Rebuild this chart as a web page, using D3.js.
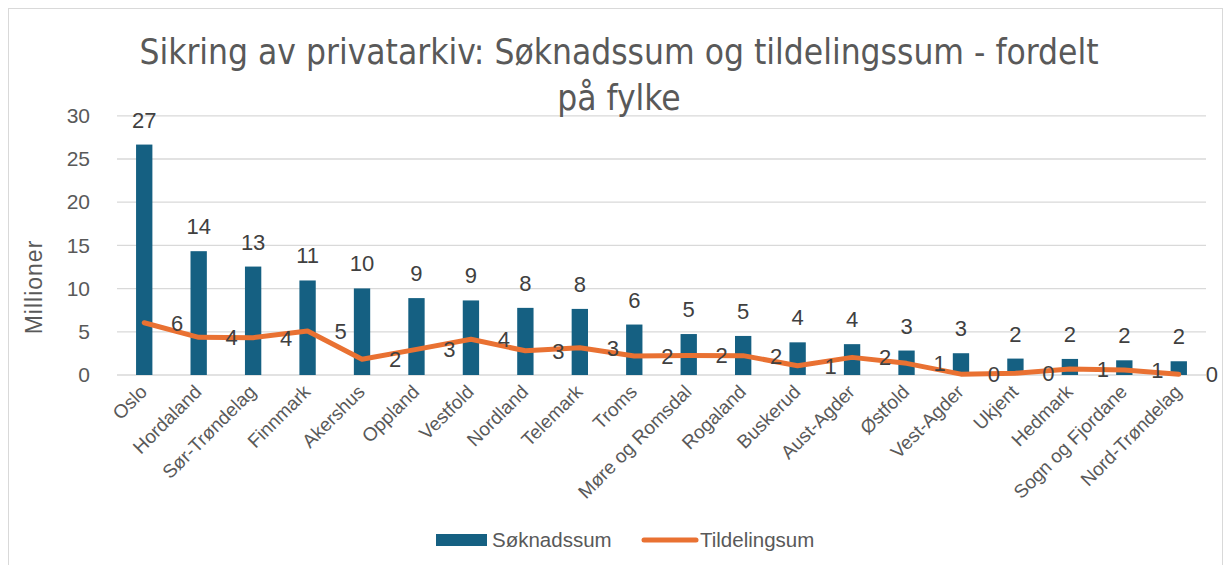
<!DOCTYPE html>
<html>
<head>
<meta charset="utf-8">
<script src="https://cdn.jsdelivr.net/npm/d3@7"></script>
<style>
  html, body { margin: 0; padding: 0; background: #fff; }
  svg { display: block; font-family: 'Liberation Sans', Arial, sans-serif; }
</style>
</head>
<body>
<svg id="chart" width="1230" height="565"></svg>
<script>
// chart data
const categories = ['Oslo', 'Hordaland', 'Sør-Trøndelag', 'Finnmark', 'Akershus', 'Oppland', 'Vestfold',
  'Nordland', 'Telemark', 'Troms', 'Møre og Romsdal', 'Rogaland', 'Buskerud', 'Aust-Agder', 'Østfold',
  'Vest-Agder', 'Ukjent', 'Hedmark', 'Sogn og Fjordane', 'Nord-Trøndelag'];
const soknadssum = [26.67, 14.33, 12.55, 10.94, 10.02, 8.9, 8.63, 7.77, 7.65, 5.84, 4.74, 4.52, 3.78,
  3.57, 2.83, 2.52, 1.9, 1.86, 1.7, 1.59];
const tildelingsum = [6.05, 4.36, 4.32, 5.09, 1.82, 2.97, 4.13, 2.81, 3.16, 2.2, 2.27, 2.24, 1.08,
  2.04, 1.35, 0.1, 0.2, 0.7, 0.58, 0.08];
const yTicks = [0, 5, 10, 15, 20, 25, 30];
const seriesNames = ['Søknadssum', 'Tildelingsum'];
const titleLines = ['Sikring av privatarkiv: Søknadssum og tildelingssum - fordelt', 'på fylke'];

const barColor = '#156082';
const lineColor = '#E97132';

const plot = { left: 117, right: 1206, top: 115.8, bottom: 375 };

const svg = d3.select('#chart');

// chart border
svg.append('rect')
  .attr('x', 8.5).attr('y', 8.5)
  .attr('width', 1214).attr('height', 600)
  .attr('fill', 'none')
  .attr('stroke', '#d9d9d9');

const xScale = d3.scaleBand()
  .domain(categories)
  .range([plot.left, plot.right])
  .paddingInner(0.7)
  .paddingOuter(0.35);

const yScale = d3.scaleLinear()
  .domain([0, 30])
  .range([plot.bottom, plot.top]);

const cx = d => xScale(d) + xScale.bandwidth() / 2;

// gridlines
svg.append('g')
  .selectAll('line')
  .data(yTicks)
  .enter().append('line')
    .attr('x1', plot.left)
    .attr('x2', plot.right)
    .attr('y1', d => yScale(d))
    .attr('y2', d => yScale(d))
    .attr('stroke', '#d9d9d9')
    .attr('stroke-width', 1.3);

// y axis
const yAxis = svg.append('g')
  .attr('transform', 'translate(90,0)')
  .call(d3.axisLeft(yScale).tickValues(yTicks).tickSize(0).tickPadding(0));
yAxis.select('.domain').remove();
yAxis.selectAll('text')
  .attr('font-size', 21)
  .attr('font-family', "'Liberation Sans', Arial, sans-serif")
  .attr('fill', '#595959');

// x axis
const xAxis = svg.append('g')
  .attr('transform', 'translate(0,' + plot.bottom + ')')
  .call(d3.axisBottom(xScale).tickSize(0).tickPadding(0));
xAxis.select('.domain').remove();
xAxis.selectAll('text')
  .attr('font-size', 19)
  .attr('font-family', "'Liberation Sans', Arial, sans-serif")
  .attr('fill', '#595959')
  .attr('text-anchor', 'end')
  .attr('dy', 0)
  .attr('transform', 'translate(4,18) rotate(-45)');

// bars
svg.append('g')
  .selectAll('rect')
  .data(categories)
  .enter().append('rect')
    .attr('x', d => xScale(d))
    .attr('width', xScale.bandwidth())
    .attr('y', (d, i) => yScale(soknadssum[i]))
    .attr('height', (d, i) => plot.bottom - yScale(soknadssum[i]))
    .attr('fill', barColor);

// bar labels
svg.append('g')
  .selectAll('text')
  .data(categories)
  .enter().append('text')
    .attr('x', d => cx(d))
    .attr('y', (d, i) => yScale(soknadssum[i]) - 17)
    .attr('text-anchor', 'middle')
    .attr('font-size', 22)
    .attr('fill', '#404040')
    .text((d, i) => Math.round(soknadssum[i]));

// line
const line = d3.line()
  .x((d, i) => cx(categories[i]))
  .y(d => yScale(d));

svg.append('path')
  .datum(tildelingsum)
  .attr('d', line)
  .attr('fill', 'none')
  .attr('stroke', lineColor)
  .attr('stroke-width', 5)
  .attr('stroke-linejoin', 'round')
  .attr('stroke-linecap', 'round');

// line labels (right of point)
svg.append('g')
  .selectAll('text')
  .data(tildelingsum)
  .enter().append('text')
    .attr('x', (d, i) => cx(categories[i]) + 33)
    .attr('y', d => yScale(d) + 8)
    .attr('text-anchor', 'middle')
    .attr('font-size', 22)
    .attr('fill', '#404040')
    .text(d => Math.round(d));

// axis title
svg.append('text')
  .attr('transform', 'translate(42,287) rotate(-90)')
  .attr('text-anchor', 'middle')
  .attr('font-size', 23)
  .attr('letter-spacing', 1)
  .attr('fill', '#595959')
  .text('Millioner');

// title
svg.append('g')
  .selectAll('text')
  .data(titleLines)
  .enter().append('text')
    .attr('x', 619)
    .attr('y', (d, i) => 64 + i * 46)
    .attr('text-anchor', 'middle')
    .attr('font-family', "'Liberation Sans Narrow', 'DejaVu Sans Condensed', sans-serif")
    .attr('font-size', 35)
    .attr('fill', '#595959')
    .text(d => d);

// legend
const legend = svg.append('g').attr('font-size', 20.5).attr('fill', '#595959');
legend.append('rect')
  .attr('x', 436).attr('y', 534)
  .attr('width', 51).attr('height', 12)
  .attr('fill', barColor);
legend.append('text')
  .attr('x', 492).attr('y', 547)
  .text(seriesNames[0]);
legend.append('line')
  .attr('x1', 644).attr('x2', 696)
  .attr('y1', 540).attr('y2', 540)
  .attr('stroke', lineColor)
  .attr('stroke-width', 5)
  .attr('stroke-linecap', 'round');
legend.append('text')
  .attr('x', 700).attr('y', 547)
  .text(seriesNames[1]);
</script>
</body>
</html>
